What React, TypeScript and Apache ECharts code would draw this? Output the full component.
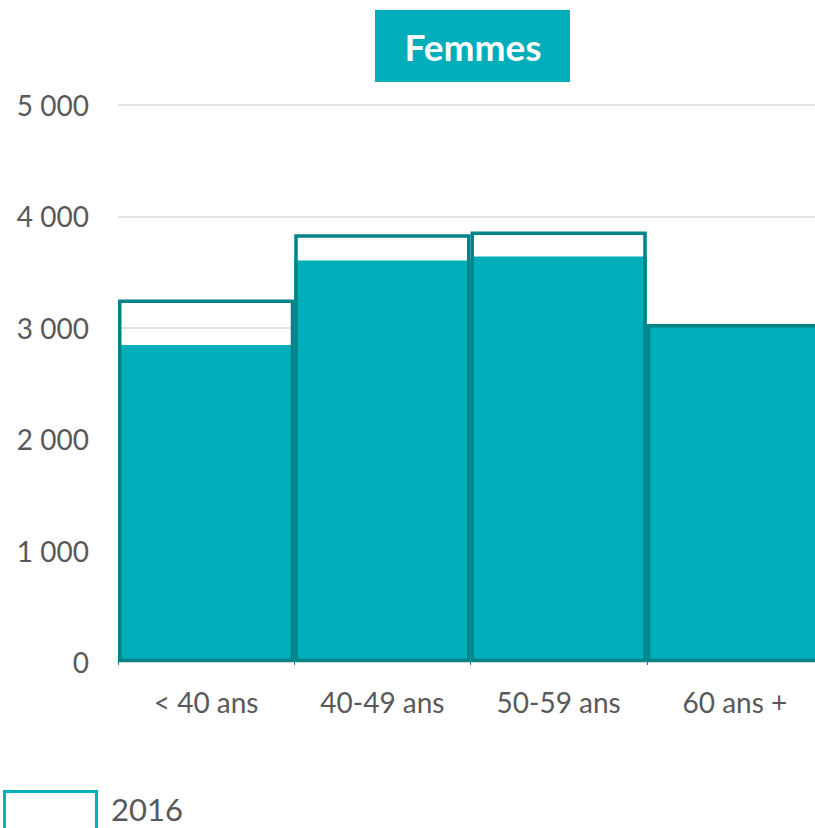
import React, { useEffect, useRef } from "react";
import * as echarts from "echarts";

const categories = ["< 40 ans", "40-49 ans", "50-59 ans", "60 ans +"];
const values2016 = [3255, 3840, 3865, 3035];
const valuesRecent = [2845, 3605, 3640, 3030];
const yTicks = [0, 1000, 2000, 3000, 4000, 5000];
const titleText = "Femmes";
const legendLabel = "2016";
const recentLabel = "2021";

const FONT = "Lato, 'Open Sans', sans-serif";

function fmt(v: number) {
  return String(v).replace(/\B(?=(\d{3})+(?!\d))/g, " ");
}

export default function App() {
  const ref = useRef<HTMLDivElement>(null);
  useEffect(() => {
    document.body.style.margin = "0";
    const chart = echarts.init(ref.current!, null, { renderer: "svg" });
    chart.setOption({
      animation: false,
      textStyle: { fontFamily: FONT },
      grid: { left: 118, top: 105, bottom: 166, right: 0, containLabel: false },
      graphic: [
        {
          type: "rect",
          shape: { x: 375, y: 10, width: 195, height: 72 },
          style: { fill: "#00AEB9" },
        },
        {
          type: "text",
          x: 473,
          y: 46,
          style: {
            text: titleText,
            fill: "#ffffff",
            font: `bold 37px ${FONT}`,
            align: "center",
            verticalAlign: "middle",
          },
        },
        {
          type: "rect",
          shape: { x: 4.5, y: 791.5, width: 92, height: 50 },
          style: { fill: "transparent", stroke: "#00B0BA", lineWidth: 3 },
        },
        {
          type: "text",
          x: 111,
          y: 809,
          style: {
            text: legendLabel,
            fill: "#595959",
            font: `31px ${FONT}`,
            align: "left",
            verticalAlign: "middle",
          },
        },
      ],
      legend: { show: false },
      xAxis: {
        type: "category",
        data: categories,
        axisLine: { show: true, lineStyle: { color: "#d9d9d9", width: 2 } },
        axisTick: { show: true, length: 3, lineStyle: { color: "#008A8F" } },
        axisLabel: { fontSize: 28, color: "#595959", margin: 26, fontFamily: FONT },
      },
      yAxis: {
        type: "value",
        min: yTicks[0],
        max: yTicks[yTicks.length - 1],
        interval: 1000,
        axisLine: { show: false },
        axisTick: { show: false },
        splitLine: { lineStyle: { color: "#d9d9d9", width: 1.5 } },
        axisLabel: {
          fontSize: 28,
          color: "#595959",
          margin: 29,
          fontFamily: FONT,
          formatter: (v: number) => fmt(v),
        },
      },
      series: [
        {
          name: recentLabel,
          type: "bar",
          data: valuesRecent,
          barCategoryGap: "0%",
          barGap: "-100%",
          itemStyle: { color: "#00AEB9" },
          z: 2,
        },
        {
          name: legendLabel,
          type: "bar",
          data: values2016,
          barCategoryGap: "0%",
          barGap: "-100%",
          itemStyle: { color: "transparent", borderColor: "#00848A", borderWidth: 3.5 },
          z: 3,
        },
      ],
    });
    return () => chart.dispose();
  }, []);
  return (
    <div
      ref={ref}
      style={{ position: "fixed", left: 0, top: 0, width: 823, height: 828, background: "#fff" }}
    />
  );
}
